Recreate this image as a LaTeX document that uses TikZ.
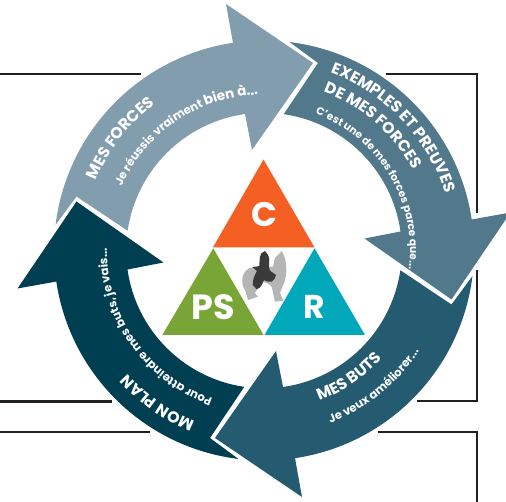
\documentclass[tikz,border=0pt]{standalone}
\usepackage{fontspec}
\setmainfont{Poppins}
\usetikzlibrary{decorations.text}
\definecolor{cA}{HTML}{829DAD}
\definecolor{cB}{HTML}{52788C}
\definecolor{cC}{HTML}{245B70}
\definecolor{cD}{HTML}{003F52}
\definecolor{cO}{HTML}{F46024}
\definecolor{cG}{HTML}{78A535}
\definecolor{cT}{HTML}{00A8B9}
\definecolor{cF}{HTML}{231F20}
\definecolor{cW}{HTML}{B5B5B5}
\definecolor{cK}{HTML}{3A3A3A}
\newcommand{\cyclearrow}[2]{%
  \begin{scope}[rotate=#1]
  \fill[#2] (173:210) arc[start angle=173,end angle=98.5,radius=210]
    -- (-38,246.5) -- (49,187.5) -- (-12,100.5) -- (-19,136.5)
    arc[start angle=98,end angle=171.7,radius=138]
    -- (-187.5,54) -- cycle;
  \end{scope}}
\tikzset{
  frameline/.style={draw=cF,line width=2.2pt},
  arctext/.style={decorate,decoration={text along path,text align=center,raise=0pt,text color=white,#1}},
  big/.style={text=white,inner sep=0pt}
}
\newcommand{\hd}{\fontsize{15.8}{15.8}\selectfont\bfseries}
\newcommand{\sm}{\fontsize{11.6}{11.6}\selectfont\bfseries}
\newcommand{\smt}{\fontsize{10.6}{10.6}\selectfont\bfseries}
\begin{document}
\begin{tikzpicture}[x=1pt,y=1pt]
\useasboundingbox (0,-502) rectangle (506,0);
% frames
\coordinate (f1) at (0,-74); \coordinate (f2) at (141,-74);
\coordinate (f3) at (386,-74); \coordinate (f4) at (477,-74); \coordinate (f5) at (477,-213);
\coordinate (f6) at (477,-270); \coordinate (f7) at (477,-401); \coordinate (f8) at (417,-401);
\coordinate (f9) at (378,-432); \coordinate (f10) at (477,-432); \coordinate (f11) at (477,-502);
\coordinate (f12) at (0,-401.5); \coordinate (f13) at (112,-401.5);
\coordinate (f14) at (0,-432); \coordinate (f15) at (150,-432);
\draw[frameline] (f1) -- (f2);
\draw[frameline] (f3) -- (f4) -- (f5);
\draw[frameline] (f6) -- (f7) -- (f8);
\draw[frameline] (f9) -- (f10) -- (f11);
\draw[frameline] (f12) -- (f13);
\draw[frameline] (f14) -- (f15);
\begin{scope}[shift={(264,-250.5)}]
\cyclearrow{0}{cA}
\cyclearrow{-90}{cB}
\cyclearrow{-180}{cC}
\cyclearrow{-270}{cD}
% texts
\path[arctext={text={|\hd|MES FORCES}}] (162:182) arc[start angle=162,end angle=122,radius=182];
\path[arctext={text={|\sm|Je réussis vraiment |\fontsize{13.5}{13.5}\selectfont\bfseries|bien à...}}] (165:156) arc[start angle=165,end angle=83,radius=156];
\path[arctext={text={|\hd|EXEMPLES ET PREUVES}}] (75:190) arc[start angle=75,end angle=12,radius=190];
\path[arctext={text={|\hd|DE MES FORCES}}] (74:169.5) arc[start angle=74,end angle=24,radius=169.5];
\path[arctext={text={|\smt|C'est une de mes forces parce que...}}] (72:146) arc[start angle=72,end angle=-10,radius=146];
\path[arctext={text={|\hd|MES BUTS}}] (-74:160) arc[start angle=-74,end angle=-38,radius=160];
\path[arctext={text={|\sm|Je veux améliorer...}}] (-76:185) arc[start angle=-76,end angle=-26,radius=185];
\path[arctext={text={|\hd|MON PLAN}}] (-108:184) arc[start angle=-108,end angle=-142,radius=184];
\path[arctext={text={|\sm|Pour atteindre mes buts, je vais...}}] (-108:157) arc[start angle=-108,end angle=-182,radius=157];
\end{scope}
% triangles
\fill[cO] (263.5,-159.5) -- (314.5,-247.3) -- (213,-247.3) -- cycle;
\fill[cG] (213.3,-248.3) -- (263.5,-335) -- (162.3,-335) -- cycle;
\fill[cT] (314.5,-248.3) -- (365,-335) -- (264.5,-335) -- cycle;
\node[big,font=\fontsize{34}{34}\selectfont\bfseries] (c) at (264,-215) {C};
\node[big,font=\fontsize{35}{35}\selectfont\bfseries] (ps) at (213.5,-307) {PS};
\node[big,font=\fontsize{33}{33}\selectfont\bfseries] (r) at (314,-307) {R};
% wolf
\fill[cW] (281.7,-251) .. controls (284,-255) and (286,-260) .. (286,-265)
  .. controls (287,-270) and (286,-276) .. (285,-280)
  .. controls (284,-285) and (281,-289) .. (280,-293)
  -- (283.3,-300.7) -- (275,-301.7) -- (271.7,-286.7)
  .. controls (268,-283) and (265,-282) .. (261.7,-281.7)
  -- (255,-293) -- (258,-296.7) -- (248,-300) -- (245,-290)
  .. controls (243,-287) and (242,-284) .. (242.3,-281.7)
  .. controls (242,-277) and (243,-274) .. (245,-271.7)
  .. controls (247,-269) and (250,-267.5) .. (253,-267)
  -- (273,-266.7) -- (275,-258) -- cycle;
% bird
\fill[cK] (265,-251) .. controls (262,-252) and (260,-254) .. (260,-256.7)
  .. controls (259.5,-260) and (259.5,-263) .. (259.3,-266)
  -- (252.7,-267.3) -- (257,-271)
  .. controls (254,-276) and (252.5,-281) .. (252.7,-285)
  -- (256.7,-289.3) .. controls (259,-288.5) and (261,-287) .. (261.7,-285)
  -- (264,-280) .. controls (267,-282) and (270,-282) .. (271.7,-281.7)
  .. controls (274,-280) and (275.5,-278) .. (276,-275)
  -- (270,-270.7) .. controls (268.5,-267) and (269,-264) .. (269.3,-260)
  .. controls (269,-256) and (267.5,-253) .. (265,-251) -- cycle;
\end{tikzpicture}
\end{document}
